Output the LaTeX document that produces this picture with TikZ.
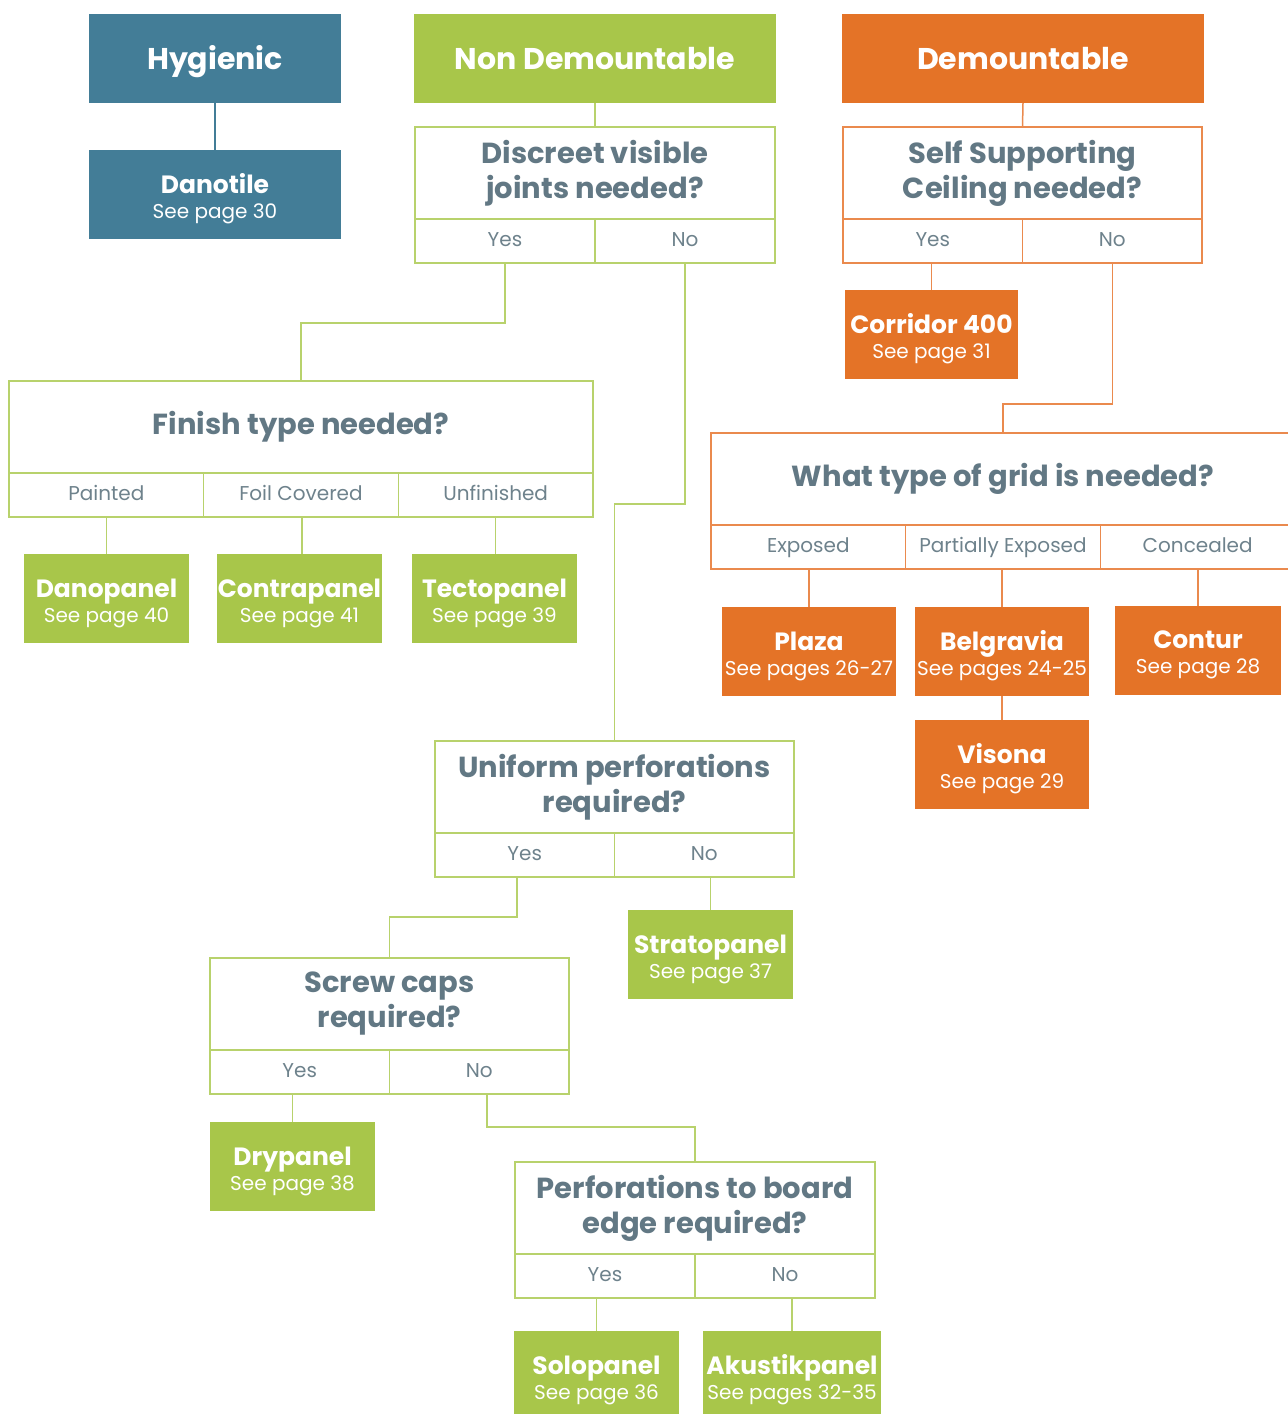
\documentclass[tikz,border=0pt]{standalone}
\usepackage{fontspec}
\setmainfont{Poppins}
\definecolor{cblue}{RGB}{67,125,151}
\definecolor{cgreen}{RGB}{168,198,74}
\definecolor{corange}{RGB}{228,115,39}
\definecolor{lgreen}{RGB}{184,210,108}
\definecolor{lorange}{RGB}{234,138,78}
\definecolor{qgray}{RGB}{98,120,132}
\definecolor{agray}{RGB}{110,130,140}
\newcommand\headfont{\bfseries\fontsize{30}{34}\selectfont}
\newcommand\qfont{\bfseries\fontsize{29}{35}\selectfont}
\newcommand\afont{\fontsize{20}{24}\selectfont}
\newcommand\boxfont{\fontsize{20}{25}\selectfont}
\newcommand\dn[2]{\raisebox{-#1}[\height][\depth]{#2}}
\newcommand\pname[2]{\dn{4.5pt}{\bfseries\fontsize{25}{25}\selectfont #1}\\\dn{4.5pt}{#2}}
\tikzset{
  hbox/.style={fill=#1, text=white, inner sep=0pt, outer sep=0pt, minimum height=89pt, align=center, font=\boxfont},
  qbox/.style={draw=#1, line width=1.5pt, fill=white, text=qgray, font=\qfont, minimum height=92pt, align=center, inner sep=0pt, outer sep=0pt},
  abox/.style={draw=#1, line width=1.5pt, fill=white, text=agray, font=\afont, minimum height=44pt, text height=15pt, text depth=4pt, inner sep=0pt, outer sep=0pt},
  link/.style={draw=#1, line width=1.5pt},
}
\begin{document}
\begin{tikzpicture}[x=1pt,y=-1pt]
\useasboundingbox (0,0) rectangle (1288,1414);
% ---- top level
\node[hbox=cblue, minimum width=252pt, font=\headfont, text height=25pt, text depth=4pt] (hyg) at (215,58.5) {Hygienic};
\node[hbox=cblue, minimum width=252pt] (danotile) at (215,194.5) {\pname{Danotile}{See page 30}};
\node[hbox=cgreen, minimum width=362pt, font=\headfont, text height=25pt, text depth=4pt] (nondem) at (595,58.5) {Non Demountable};
\node[hbox=corange, minimum width=362pt, font=\headfont, text height=25pt, text depth=4pt] (dem) at (1023,58.5) {Demountable};
% ---- Discreet visible joints
\node[qbox=lgreen, minimum width=360pt] (q1) at (595,173) {Discreet visible\\joints needed?};
\node[abox=lgreen, minimum width=180pt] (q1y) at (505,241) {Yes};
\node[abox=lgreen, minimum width=180pt] (q1n) at (685,241) {No};
% ---- Self supporting
\node[qbox=lorange, minimum width=359pt] (q7) at (1022.5,173) {Self Supporting\\Ceiling needed?};
\node[abox=lorange, minimum width=179.5pt] (q7y) at (932.75,241) {Yes};
\node[abox=lorange, minimum width=179.5pt] (q7n) at (1112.25,241) {No};
\node[hbox=corange, minimum width=173pt] (corr) at (931.5,334.5) {\pname{Corridor 400}{See page 31}};
% ---- Grid type
\node[qbox=lorange, minimum width=584pt] (q8) at (1003,479) {What type of grid is needed?};
\node[abox=lorange, minimum width=194.67pt] (q8a) at (808.33,547) {Exposed};
\node[abox=lorange, minimum width=194.67pt] (q8b) at (1003,547) {Partially Exposed};
\node[abox=lorange, minimum width=194.67pt] (q8c) at (1197.67,547) {Concealed};
\node[hbox=corange, minimum width=174pt] (plaza) at (809,651.5) {\pname{Plaza}{See pages 26-27}};
\node[hbox=corange, minimum width=174pt] (belg) at (1002,651) {\pname{Belgravia}{See pages 24-25}};
\node[hbox=corange, minimum width=166pt] (contur) at (1198,650.5) {\pname{Contur}{See page 28}};
\node[hbox=corange, minimum width=174pt] (visona) at (1002,764.5) {\pname{Visona}{See page 29}};
% ---- Finish type
\node[qbox=lgreen, minimum width=584pt] (q2) at (301,427) {Finish type needed?};
\node[abox=lgreen, minimum width=194.67pt] (q2a) at (106.33,495) {Painted};
\node[abox=lgreen, minimum width=194.67pt] (q2b) at (301,495) {Foil Covered};
\node[abox=lgreen, minimum width=194.67pt] (q2c) at (495.67,495) {Unfinished};
\node[hbox=cgreen, minimum width=165pt] (danop) at (106.5,598.5) {\pname{Danopanel}{See page 40}};
\node[hbox=cgreen, minimum width=165pt] (contra) at (299.5,598.5) {\pname{Contrapanel}{See page 41}};
\node[hbox=cgreen, minimum width=165pt] (tecto) at (494.5,598.5) {\pname{Tectopanel}{See page 39}};
% ---- Uniform perforations
\node[qbox=lgreen, minimum width=359pt] (q4) at (614.5,787) {Uniform perforations\\required?};
\node[abox=lgreen, minimum width=179.5pt] (q4y) at (524.75,855) {Yes};
\node[abox=lgreen, minimum width=179.5pt] (q4n) at (704.25,855) {No};
\node[hbox=cgreen, minimum width=165pt] (strato) at (710.5,954.5) {\pname{Stratopanel}{See page 37}};
% ---- Screw caps
\node[qbox=lgreen, minimum width=359pt] (q5) at (389.5,1004) {Screw caps\\required?};
\node[abox=lgreen, minimum width=179.5pt] (q5y) at (299.75,1072) {Yes};
\node[abox=lgreen, minimum width=179.5pt] (q5n) at (479.25,1072) {No};
\node[hbox=cgreen, minimum width=165pt] (dry) at (292.5,1166.5) {\pname{Drypanel}{See page 38}};
% ---- Perforations to board edge
\node[qbox=lgreen, minimum width=360pt] (q6) at (695,1208) {Perforations to board\\edge required?};
\node[abox=lgreen, minimum width=180pt] (q6y) at (605,1276) {Yes};
\node[abox=lgreen, minimum width=180pt] (q6n) at (785,1276) {No};
\node[hbox=cgreen, minimum width=165pt] (solo) at (596.5,1375.5) {\pname{Solopanel}{See page 36}};
\node[hbox=cgreen, minimum width=178pt] (akus) at (792,1375.5) {\pname{Akustikpanel}{See pages 32-35}};
% ---- connectors
\draw[link=cblue] (hyg.south) -- (danotile.north);
\draw[link=lgreen] (nondem.south) -- (q1.north);
\draw[link=lorange] (dem.south) -- (q7.north);
\draw[link=lorange] (corr.north) -- (corr.north |- q7y.south);
\draw[link=lorange] (q7n.south) -- ++(0,141) -| (q8.north);
\draw[link=lorange] (plaza.north) -- (plaza.north |- q8a.south);
\draw[link=lorange] (belg.north) -- (belg.north |- q8b.south);
\draw[link=lorange] (contur.north) -- (contur.north |- q8c.south);
\draw[link=lorange] (belg.south) -- (visona.north);
\draw[link=lgreen] (q1y.south) -- ++(0,60) -| (q2.north);
\draw[link=lgreen] (danop.north) -- (danop.north |- q2a.south);
\draw[link=lgreen] ([xshift=1pt]q2b.south) -- ([xshift=1pt]q2b.south |- contra.north);
\draw[link=lgreen] (q2c.south) -- (q2c.south |- tecto.north);
\draw[link=lgreen] (q1n.south) -- ++(0,241) -| (q4.north);
\draw[link=lgreen] ([xshift=-8pt]q4y.south) -- ++(0,40) -| (q5.north);
\draw[link=lgreen] (strato.north) -- (strato.north |- q4n.south);
\draw[link=lgreen] (dry.north) -- (dry.north |- q5y.south);
\draw[link=lgreen] ([xshift=7.5pt]q5n.south) -- ++(0,33) -| (q6.north);
\draw[link=lgreen] (solo.north) -- (solo.north |- q6y.south);
\draw[link=lgreen] (akus.north) -- (akus.north |- q6n.south);
\end{tikzpicture}
\end{document}
